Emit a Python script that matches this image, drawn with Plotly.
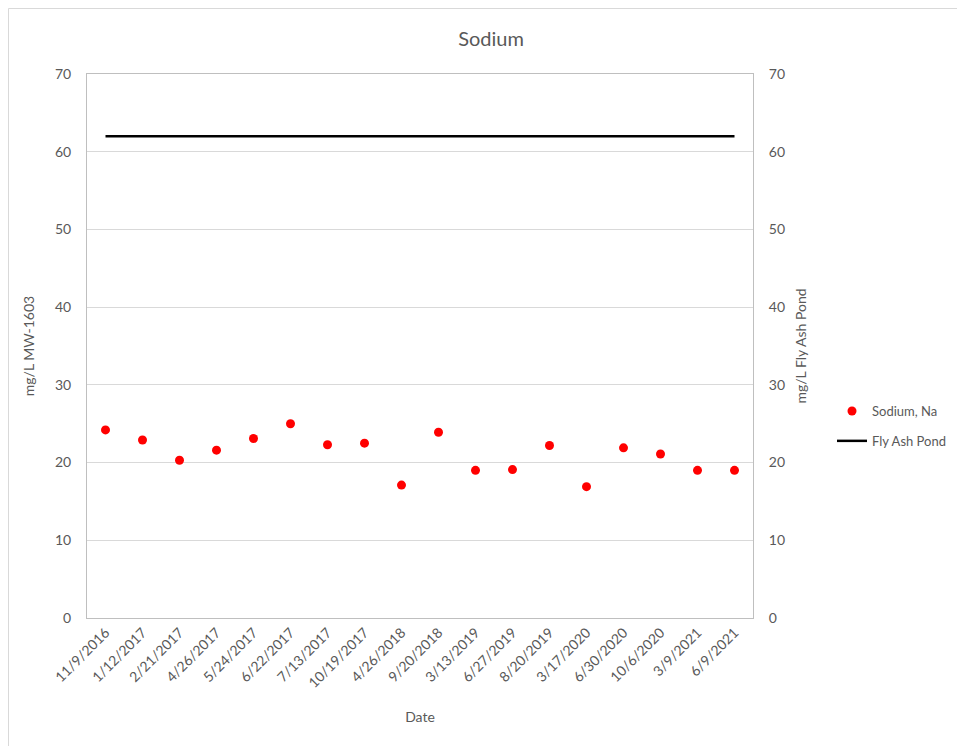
import plotly.graph_objects as go

dates = ["11/9/2016", "1/12/2017", "2/21/2017", "4/26/2017", "5/24/2017", "6/22/2017",
         "7/13/2017", "10/19/2017", "4/26/2018", "9/20/2018", "3/13/2019", "6/27/2019",
         "8/20/2019", "3/17/2020", "6/30/2020", "10/6/2020", "3/9/2021", "6/9/2021"]
sodium = [24.2, 22.9, 20.3, 21.6, 23.1, 25.0, 22.3, 22.5, 17.1, 23.9, 19.0, 19.1,
          22.2, 16.9, 21.9, 21.1, 19.0, 19.0]
fly_ash = [62] * len(dates)

OFF = 8  # page body margin offset
W, H = 965 - OFF, 746 - OFF
ml, mt = 87 - OFF, 74 - OFF
mr = W - (753 - OFF)
mb = H - (618 - OFF)
pw, ph = W - ml - mr, H - mt - mb

font = "Lato, 'Open Sans', sans-serif"
grey = "#595959"

fig = go.Figure()
fig.add_trace(go.Scatter(x=dates, y=sodium, mode="markers", name="Sodium, Na",
                         legendgroup="na",
                         marker=dict(color="#FF0000", size=9)))
fig.add_trace(go.Scatter(x=dates, y=fly_ash, mode="lines", name="Fly Ash Pond",
                         legendgroup="fa",
                         line=dict(color="#000000", width=2.5), yaxis="y2"))

def px_x(p):
    return (p - OFF - ml) / pw

def px_y(p):
    return (H - mb - (p - OFF)) / ph

fig.update_layout(
    width=W, height=H,
    margin=dict(l=ml, r=mr, t=mt, b=mb, autoexpand=False),
    paper_bgcolor="white", plot_bgcolor="white",
    font=dict(family=font, color=grey, size=13),
    title=dict(text="Sodium", xref="container", x=(491 - OFF) / W, xanchor="center",
               yref="container", y=1 - (39 - OFF) / H, yanchor="middle",
               font=dict(size=20, color=grey, family=font)),
    xaxis=dict(type="category", tickangle=-45, showgrid=False, showline=True,
               linecolor="#BFBFBF", linewidth=1, mirror=True, ticks="",
               tickfont=dict(size=14, color=grey),
               title=dict(text="Date", font=dict(size=14, color=grey), standoff=22),
               range=[-0.5, len(dates) - 0.5]),
    yaxis=dict(range=[0, 70], dtick=10, showgrid=True, gridcolor="#D9D9D9", gridwidth=1,
               showline=True, linecolor="#BFBFBF", zeroline=False, ticks="",
               tickfont=dict(size=14, color=grey), ticklabelstandoff=12,
               title=dict(text="mg/L MW-1603", font=dict(size=14, color=grey), standoff=17)),
    yaxis2=dict(range=[0, 70], dtick=10, overlaying="y", side="right", showgrid=False,
                showline=True, linecolor="#BFBFBF", zeroline=False, ticks="",
                tickfont=dict(size=14, color=grey), ticklabelstandoff=12,
                title=dict(text="mg/L Fly Ash Pond", font=dict(size=14, color=grey), standoff=12)),
    legend=dict(x=px_x(832), y=px_y(396), xanchor="left", yanchor="top",
                font=dict(size=13, color=grey), bgcolor="rgba(0,0,0,0)",
                traceorder="grouped", tracegroupgap=10),
    showlegend=True,
    shapes=[
        dict(type="line", xref="paper", yref="paper", x0=px_x(8.5), x1=px_x(8.5),
             y0=px_y(8.5), y1=px_y(760), line=dict(color="#D9D9D9", width=1)),
        dict(type="line", xref="paper", yref="paper", x0=px_x(8.5), x1=px_x(980),
             y0=px_y(8.5), y1=px_y(8.5), line=dict(color="#D9D9D9", width=1)),
    ],
)

fig.write_html("out.html")
